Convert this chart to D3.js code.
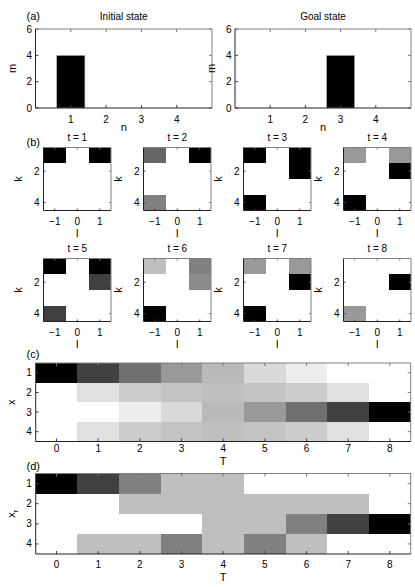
<!DOCTYPE html>
<html><head><meta charset="utf-8">
<script src="https://cdn.jsdelivr.net/npm/d3@7"></script>
<style>
html,body{margin:0;padding:0;background:#fff;}
svg text{font-family:"Liberation Sans",Arial,Helvetica,sans-serif;fill:#000;}
</style></head>
<body>
<svg id="c" width="415" height="587"></svg>
<script>
// ---------- data ----------
const nCats = [1, 2, 3, 4];
const initialState = [4, 0, 0, 0];
const goalState = [0, 0, 4, 0];
const aXTicks = [1, 2, 3, 4];
const aYTicks = [0, 2, 4, 6];

const lVals = [-1, 0, 1];
const kVals = [1, 2, 3, 4];
const kTicks = [2, 4];
const tSteps = [1, 2, 3, 4, 5, 6, 7, 8];
// darkness (0 = white, 1 = black), rows k = 1..4, columns l = -1,0,1
const bT1 = [[1, 0, 1], [0, 0, 0], [0, 0, 0], [0, 0, 0]];
const bT2 = [[0.6, 0, 1], [0, 0, 0], [0, 0, 0], [0.5, 0, 0]];
const bT3 = [[1, 0, 1], [0, 0, 1], [0, 0, 0], [1, 0, 0]];
const bT4 = [[0.4, 0, 0.4], [0, 0, 1], [0, 0, 0], [1, 0, 0]];
const bT5 = [[1, 0, 1], [0, 0, 0.75], [0, 0, 0], [0.75, 0, 0]];
const bT6 = [[0.25, 0, 0.5], [0, 0, 0.45], [0, 0, 0], [1, 0, 0]];
const bT7 = [[0.4, 0, 0.4], [0, 0, 1], [0, 0, 0], [1, 0, 0]];
const bT8 = [[0, 0, 0], [0, 0, 1], [0, 0, 0], [0.4, 0, 0]];
const bGrids = [bT1, bT2, bT3, bT4, bT5, bT6, bT7, bT8];

const TVals = [0, 1, 2, 3, 4, 5, 6, 7, 8];
const xRows = [1, 2, 3, 4];
const cX1 = [1, 0.75, 0.56, 0.4, 0.27, 0.15, 0.07, 0, 0];
const cX2 = [0, 0.12, 0.2, 0.23, 0.25, 0.23, 0.2, 0.12, 0];
const cX3 = [0, 0, 0.07, 0.15, 0.27, 0.4, 0.56, 0.75, 1];
const cX4 = [0, 0.12, 0.2, 0.23, 0.25, 0.23, 0.2, 0.12, 0];
const dXr1 = [1, 0.75, 0.5, 0.25, 0.25, 0, 0, 0, 0];
const dXr2 = [0, 0, 0.25, 0.25, 0.25, 0.25, 0.25, 0.25, 0];
const dXr3 = [0, 0, 0, 0, 0.25, 0.25, 0.5, 0.75, 1];
const dXr4 = [0, 0.25, 0.25, 0.5, 0.25, 0.5, 0.25, 0, 0];

// ---------- helpers ----------
const svg = d3.select('#c');
const gray = d3.scaleLinear().domain([0, 1]).range(['#ffffff', '#000000']);
const FS = 10;

function frame(g, x0, x1, y0, y1, xs, ys, xt, yt, tl) {
  tl = tl || 3;
  xt.forEach(v => {
    const px = xs(v);
    g.append('line').attr('x1', px).attr('x2', px).attr('y1', y1).attr('y2', y1 - tl).attr('stroke', '#444');
    g.append('line').attr('x1', px).attr('x2', px).attr('y1', y0).attr('y2', y0 + tl).attr('stroke', '#777');
  });
  yt.forEach(v => {
    const py = ys(v);
    g.append('line').attr('x1', x0).attr('x2', x0 + tl).attr('y1', py).attr('y2', py).attr('stroke', '#444');
    g.append('line').attr('x1', x1).attr('x2', x1 - tl).attr('y1', py).attr('y2', py).attr('stroke', '#777');
  });
  g.append('line').attr('x1', x0).attr('x2', x1).attr('y1', y0).attr('y2', y0).attr('stroke', '#808080');
  g.append('line').attr('x1', x1).attr('x2', x1).attr('y1', y0).attr('y2', y1).attr('stroke', '#808080');
  g.append('line').attr('x1', x0).attr('x2', x0).attr('y1', y0).attr('y2', y1).attr('stroke', '#222');
  g.append('line').attr('x1', x0).attr('x2', x1).attr('y1', y1).attr('y2', y1).attr('stroke', '#222');
}
function xLabels(g, xs, ticks, y, fmt) {
  ticks.forEach(v => g.append('text').attr('x', xs(v)).attr('y', y).attr('text-anchor', 'middle')
    .attr('font-size', FS).text(fmt ? fmt(v) : v));
}
function yLabels(g, ys, ticks, x) {
  ticks.forEach(v => g.append('text').attr('x', x).attr('y', ys(v)).attr('dy', '0.35em')
    .attr('text-anchor', 'end').attr('font-size', FS).text(v));
}
function rotLabel(g, x, y, txt, sub) {
  const t = g.append('text').attr('transform', `translate(${x},${y}) rotate(-90)`)
    .attr('text-anchor', 'middle').attr('font-size', FS + 1).text(txt);
  if (sub) t.append('tspan').attr('font-size', 8).attr('dy', 3).text(sub);
}
const minus = v => (v < 0 ? '\u2212' + Math.abs(v) : String(v));

// ---------- panel (a) ----------
function barPanel(x0, x1, vals, title) {
  const y0 = 29, y1 = 108;
  const xs = d3.scaleLinear().domain([0, 5]).range([x0, x1]);
  const ys = d3.scaleLinear().domain([0, 6]).range([y1, y0]);
  const g = svg.append('g');
  g.selectAll('rect.bar').data(nCats.map((c, i) => ({ c, v: vals[i] })).filter(d => d.v > 0))
    .enter().append('rect')
    .attr('x', d => xs(d.c - 0.4)).attr('width', d => xs(d.c + 0.4) - xs(d.c - 0.4))
    .attr('y', d => ys(d.v)).attr('height', d => ys(0) - ys(d.v))
    .attr('fill', '#000').attr('stroke', '#bbb').attr('stroke-width', 0.6);
  frame(g, x0, x1, y0, y1, xs, ys, aXTicks, aYTicks);
  xLabels(g, xs, aXTicks, 122.5);
  yLabels(g, ys, aYTicks, x0 - 3.5);
  g.append('text').attr('x', (x0 + x1) / 2).attr('y', 20).attr('text-anchor', 'middle').attr('font-size', FS).text(title);
  g.append('text').attr('x', (x0 + x1) / 2).attr('y', 131).attr('text-anchor', 'middle').attr('font-size', FS + 1).text('n');
  rotLabel(g, x0 - 20, (y0 + y1) / 2, 'm');
}
barPanel(35.5, 212, initialState, 'Initial state');
barPanel(235, 411, goalState, 'Goal state');

// ---------- panel (b) ----------
const bLefts = [43.5, 143.5, 243.5, 343.5];
const bTops = [147.5, 258.5];
const bW = 67.5, bH = 63;
tSteps.forEach((t, i) => {
  const x0 = bLefts[i % 4], x1 = x0 + bW;
  const y0 = bTops[Math.floor(i / 4)], y1 = y0 + bH;
  const xs = d3.scaleLinear().domain([-1.5, 1.5]).range([x0, x1]);
  const ys = d3.scaleLinear().domain([0.5, 4.5]).range([y0, y1]);
  const g = svg.append('g');
  const cells = [];
  bGrids[i].forEach((row, r) => row.forEach((v, c) => cells.push({ k: kVals[r], l: lVals[c], v })));
  g.selectAll('rect').data(cells).enter().append('rect')
    .attr('x', d => xs(d.l - 0.5)).attr('width', d => xs(d.l + 0.5) - xs(d.l - 0.5))
    .attr('y', d => ys(d.k - 0.5)).attr('height', d => ys(d.k + 0.5) - ys(d.k - 0.5))
    .attr('fill', d => gray(d.v)).attr('shape-rendering', 'crispEdges');
  frame(g, x0, x1, y0, y1, xs, ys, lVals, kTicks, 2);
  xLabels(g, xs, lVals, y1 + 14.5, minus);
  yLabels(g, ys, kTicks, x0 - 4);
  g.append('text').attr('x', (x0 + x1) / 2).attr('y', y0 - 7).attr('text-anchor', 'middle').attr('font-size', FS).text('t = ' + t);
  g.append('text').attr('x', (x0 + x1) / 2).attr('y', y1 + 26).attr('text-anchor', 'middle').attr('font-size', FS + 1).text('l');
  rotLabel(g, x0 - 22, (y0 + y1) / 2, 'k');
});

// ---------- panels (c), (d) ----------
function heatPanel(y0, y1, rows, tickY, xlabY, ylab, ysub) {
  const x0 = 35.7, x1 = 410.7;
  const xs = d3.scaleLinear().domain([-0.5, 8.5]).range([x0, x1]);
  const ys = d3.scaleLinear().domain([0.5, 4.5]).range([y0, y1]);
  const g = svg.append('g');
  const cells = [];
  rows.forEach((row, r) => row.forEach((v, c) => cells.push({ x: xRows[r], T: TVals[c], v })));
  g.selectAll('rect').data(cells).enter().append('rect')
    .attr('x', d => xs(d.T - 0.5)).attr('width', d => xs(d.T + 0.5) - xs(d.T - 0.5))
    .attr('y', d => ys(d.x - 0.5)).attr('height', d => ys(d.x + 0.5) - ys(d.x - 0.5))
    .attr('fill', d => gray(d.v)).attr('shape-rendering', 'crispEdges');
  frame(g, x0, x1, y0, y1, xs, ys, TVals, xRows, 3);
  xLabels(g, xs, TVals, tickY);
  yLabels(g, ys, xRows, x0 - 4);
  g.append('text').attr('x', (x0 + x1) / 2).attr('y', xlabY).attr('text-anchor', 'middle').attr('font-size', FS + 1).text('T');
  rotLabel(g, 15, (y0 + y1) / 2, ylab, ysub);
}
heatPanel(363, 441.5, [cX1, cX2, cX3, cX4], 452, 465, 'x');
heatPanel(473.5, 554, [dXr1, dXr2, dXr3, dXr4], 568, 581, 'x', 'r');

// panel letters
[['(a)', 20], ['(b)', 145.5], ['(c)', 358], ['(d)', 470]].forEach(([s, y]) =>
  svg.append('text').attr('x', 26.5).attr('y', y).attr('font-size', FS + 1).text(s));
</script>
</body></html>
